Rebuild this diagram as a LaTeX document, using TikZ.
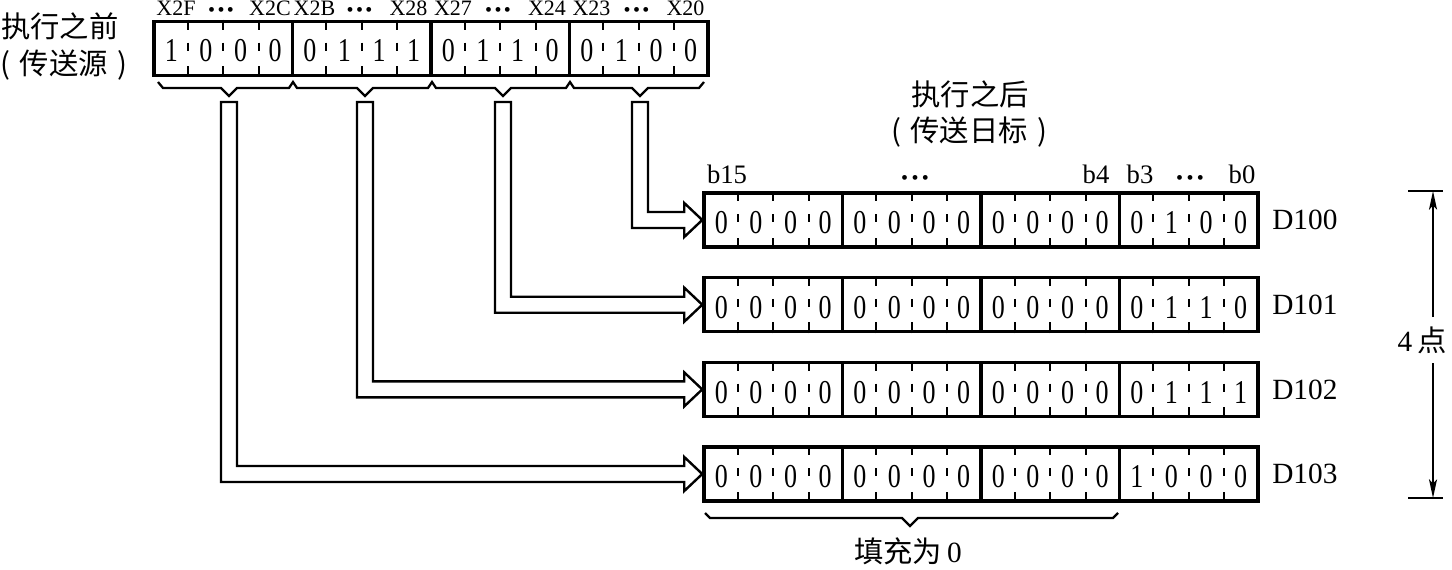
\documentclass[tikz,border=0pt]{standalone}
\usepackage{fontspec}
\setmainfont{Liberation Serif}
\newfontfamily\cjk{Noto Sans CJK SC}
\newfontfamily\digitfont[FakeStretch=0.78]{Liberation Serif}
\usetikzlibrary{calc,arrows.meta}
\newlength\cw \setlength\cw{25.97pt}
\newcommand\dg[1]{\makebox[\cw]{\raisebox{-2pt}[\height][0pt]{#1}}}
\newcommand\bits[4]{\dg{#1}\dg{#2}\dg{#3}\dg{#4}}
\newcommand\tdots[1]{{\fontsize{15}{15}\selectfont •\hspace{#1}•\hspace{#1}•}}
\newcommand\divs[1]{\foreach \k in {1,2,3}{%
  \draw[divider] ($(#1.north west)!\k/4!(#1.north east)$) -- ++(0,10);
  \draw[divider] ($(#1.north west)!\k/4!(#1.north east)+(0,23)$) -- ++(0,8);
  \draw[divider] ($(#1.south west)!\k/4!(#1.south east)$) -- ++(0,-11);}}
\newcommand\hollowarrow[2]{%
  \draw[hollow] let \p1=(#1), \p2=(#2.west) in
    (\x1-6pt,\y1) -- (\x1-6pt,\y2-6pt) -- (\x2-13.5pt,\y2-6pt) -- (\x2-13.5pt,\y2-12.75pt)
    -- (\x2,\y2) -- (\x2-13.5pt,\y2+12.75pt) -- (\x2-13.5pt,\y2+6pt)
    -- (\x1+6pt,\y2+6pt) -- (\x1+6pt,\y1) -- cycle;}
\begin{document}
\begin{tikzpicture}[x=0.75pt,y=-0.75pt,
  grp/.style={draw,line width=2.6pt,minimum width=103.9pt,minimum height=40.5pt,inner sep=0pt,
    font=\digitfont\fontsize{25}{25}\selectfont},
  divider/.style={line width=1.3pt},
  hollow/.style={line width=1.8pt,line join=miter},
  bracel/.style={line width=1.7pt,line join=miter},
  lab/.style={inner sep=0pt,anchor=base,font=\fontsize{16.5}{16.5}\selectfont},
  blab/.style={inner sep=0pt,anchor=base,font=\fontsize{20}{20}\selectfont},
  dlab/.style={inner sep=0pt,anchor=west,font=\fontsize{22}{22}\selectfont},
  cjklab/.style={inner sep=0pt,font=\cjk\fontsize{22}{22}\selectfont},
  dim/.style={line width=1.3pt,-{Stealth[length=14pt,width=6pt,inset=3pt]}},
  tick/.style={line width=1.3pt}]
\useasboundingbox (0,0) rectangle (1452,570);

% ---------- source register ----------
\node[cjklab] (before) at (60,26) {执行之前};
\node[cjklab] (src) at (64,65) {(\hspace{7pt}传送源\hspace{7pt})};

\node[grp] (s1) at (223.25,48.25) {\bits1000};
\node[grp] (s2) at (361.75,48.25) {\bits0111};
\node[grp] (s3) at (500.25,48.25) {\bits0110};
\node[grp] (s4) at (638.75,48.25) {\bits0100};
\divs{s1}\divs{s2}\divs{s3}\divs{s4}

\foreach \g/\gs/\la/\lb in {1/154/X2F/X2C, 2/292.5/X2B/X28, 3/431/X27/X24, 4/569.5/X23/X20}{
  \node[lab] (xl\g) at (\gs+22,16) {\la};
  \node[lab] (xd\g) at (\gs+67,17) {\tdots{1.8pt}};
  \node[lab] (xr\g) at (\gs+116,16) {\lb};
}

% braces under source
\draw[bracel] (158,82) -- (163,88) -- (221,88) -- (229,96) -- (237,88) -- (289,88) -- (293,82)
  -- (297,88) -- (357,88) -- (365,96) -- (373,88) -- (428,88) -- (432,82) -- (436,88)
  -- (495,88) -- (503,96) -- (511,88) -- (566,88) -- (570,82) -- (574,88) -- (632,88)
  -- (640,96) -- (648,88) -- (699,88) -- (704,82);

% ---------- destination registers ----------
\node[cjklab] (after) at (970,94) {执行之后};
\node[cjklab] (dst) at (969,132) {(\hspace{7pt}传送日标\hspace{7pt})};

\node[blab] (b15) at (727,184) {b15};
\node[lab] (bd1) at (915,185) {\tdots{2.6pt}};
\node[blab] (b4) at (1096,184) {b4};
\node[blab] (b3) at (1140,184) {b3};
\node[lab] (bd2) at (1190,185) {\tdots{2.6pt}};
\node[blab] (b0) at (1242,184) {b0};

\foreach \r/\yy/\lo/\nm in {1/220/0100/D100, 2/304.7/0110/D101, 3/389.4/0111/D102, 4/474/1000/D103}{
  \node[grp] (r\r g1) at (773.25,\yy) {\bits0000};
  \node[grp] (r\r g2) at (911.75,\yy) {\bits0000};
  \node[grp] (r\r g3) at (1050.25,\yy) {\bits0000};
  \node[grp] (r\r g4) at (1188.75,\yy) {\expandafter\bits\lo};
  \node[dlab] (lab\r) at (1272,\yy) {\nm};
  \divs{r\r g1}\divs{r\r g2}\divs{r\r g3}\divs{r\r g4}
}

% ---------- hollow transfer arrows ----------
\coordinate (t1) at (229,102);
\coordinate (t2) at (365,102);
\coordinate (t3) at (503,102);
\coordinate (t4) at (640,102);
\hollowarrow{t4}{r1g1}
\hollowarrow{t3}{r2g1}
\hollowarrow{t2}{r3g1}
\hollowarrow{t1}{r4g1}

% ---------- brace under destination ----------
\draw[bracel] (705,513) -- (710,518) -- (902,518) -- (910,526) -- (918,518) -- (1113,518) -- (1118,513);
\node[inner sep=0pt,font=\fontsize{22}{22}\selectfont] (fill) at (908,551) {{\cjk 填充为}\,0};

% ---------- dimension: 4 points ----------
\coordinate (dtl) at (1408,191); \coordinate (dtr) at (1443,191);
\coordinate (dbl) at (1408,498); \coordinate (dbr) at (1443,498);
\coordinate (dt) at (1433,191); \coordinate (db) at (1433,498);
\coordinate (da) at (1433,317); \coordinate (dbb) at (1433,363);
\draw[tick] (dtl) -- (dtr);
\draw[tick] (dbl) -- (dbr);
\draw[dim] (da) -- (dt);
\draw[dim] (dbb) -- (db);
\node[inner sep=0pt,font=\fontsize{22}{22}\selectfont] (four) at (1422,340) {4\,{\cjk 点}};
\end{tikzpicture}
\end{document}
